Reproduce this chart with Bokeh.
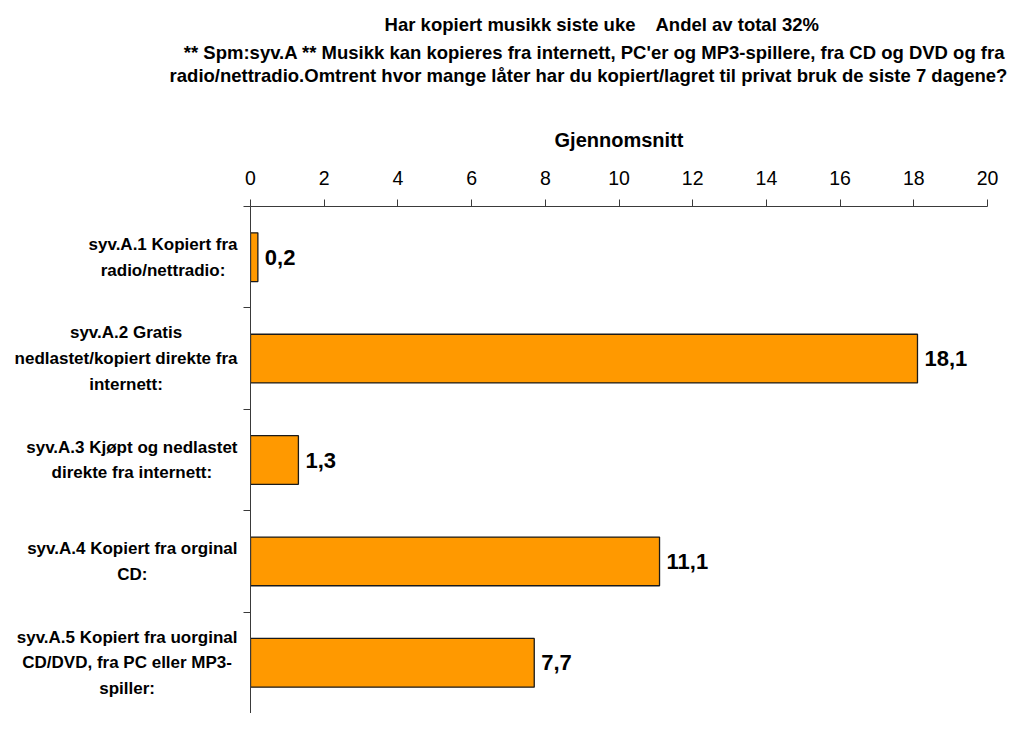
from bokeh.plotting import figure
from bokeh.models import FactorRange, Range1d, LinearAxis, FixedTicker, ColumnDataSource
from bokeh.layouts import column, row
from bokeh.core.properties import value
from bokeh.embed import file_html
from bokeh.resources import INLINE

# ---- data ----
categories = [
    "syv.A.1 Kopiert fra\nradio/nettradio:",
    "syv.A.2 Gratis\nnedlastet/kopiert direkte fra\ninternett:",
    "syv.A.3 Kjøpt og nedlastet\ndirekte fra internett:",
    "syv.A.4 Kopiert fra orginal\nCD:",
    "syv.A.5 Kopiert fra uorginal\nCD/DVD, fra PC eller MP3-\nspiller:",
]
values = [0.2, 18.1, 1.3, 11.1, 7.7]
value_labels = ["0,2", "18,1", "1,3", "11,1", "7,7"]
x_ticks = [0, 2, 4, 6, 8, 10, 12, 14, 16, 18, 20]
axis_title = "Gjennomsnitt"
title_left = "Har kopiert musikk siste uke"
title_right = "Andel av total 32%"
subtitle_lines = [
    "** Spm:syv.A ** Musikk kan kopieres fra internett, PC'er og MP3-spillere, fra CD og DVD og fra",
    "radio/nettradio.Omtrent hvor mange låter har du kopiert/lagret til privat bruk de siste 7 dagene?",
]

FONT = "Liberation Sans"
W, H = 1009, 713
TH = 100            # height of the title strip
RH = H - TH         # height of the chart row
LW = 240            # width of the category-label column
MW = W - LW         # width of the main chart
TOP = 106           # space above the plot frame inside the chart row
AX = "#3a3a3a"
TFS = "18.5px"


def bare(fig):
    fig.outline_line_color = None
    fig.grid.visible = False
    fig.background_fill_color = "white"
    fig.border_fill_color = "white"
    return fig


# ---- title strip ----
tf = bare(figure(width=W, height=TH, output_backend="svg", toolbar_location=None,
                 x_range=Range1d(0, W), y_range=Range1d(TH, 0),
                 x_axis_location=None, y_axis_location=None, min_border=0))
title_style = dict(text_baseline="alphabetic", text_font=value(FONT), text_font_style="bold",
                   text_font_size=TFS, text_color="black")
tf.text(x=[594, 588], y=[52, 75], text=subtitle_lines, text_align="center", **title_style)
tf.text(x=[645, 645], y=[24, 24], text=[title_left, title_right], x_offset=[-10, 10],
        text_align=["right", "left"], **title_style)

# ---- shared categorical range ----
yr = FactorRange(factors=list(reversed(categories)))

# ---- category labels column ----
lf = bare(figure(width=LW, height=RH, output_backend="svg", toolbar_location=None,
                 x_range=Range1d(0, LW), y_range=yr,
                 x_axis_location=None, y_axis_location=None,
                 min_border_top=TOP, min_border_bottom=0, min_border_left=0, min_border_right=0))
lf.text(x=[LW - 3] * len(categories), y=categories, text=categories,
        anchor="center_right", text_align="center", text_baseline="middle",
        text_font=value(FONT), text_font_style="bold", text_font_size="17px",
        text_line_height=1.35, text_color="black")

# ---- main chart ----
p = bare(figure(width=MW, height=RH, output_backend="svg", toolbar_location=None,
                x_range=Range1d(0, 20), y_range=yr,
                x_axis_location="above", y_axis_location=None,
                min_border_left=10, min_border_right=22, min_border_top=TOP, min_border_bottom=0))

xa = p.xaxis[0]
xa.ticker = FixedTicker(ticks=x_ticks)
xa.major_tick_out = 7
xa.major_tick_in = 0
xa.minor_tick_out = 0
xa.minor_tick_in = 0
xa.axis_line_color = AX
xa.major_tick_line_color = AX
xa.major_label_text_font = FONT
xa.major_label_text_font_size = "19.5px"
xa.major_label_text_color = "black"
xa.major_label_standoff = 15
xa.axis_label = axis_title
xa.axis_label_text_font = FONT
xa.axis_label_text_font_style = "bold"
xa.axis_label_text_font_size = "20px"
xa.axis_label_text_color = "black"
xa.axis_label_standoff = 17

ya = LinearAxis(ticker=FixedTicker(ticks=list(range(len(categories) + 1))),
                major_tick_out=7, major_tick_in=0, minor_tick_out=0, minor_tick_in=0,
                axis_line_color=AX, major_tick_line_color=AX, major_label_standoff=0,
                major_label_text_color=None, major_label_text_font_size="1px")
p.add_layout(ya, "left")

src = ColumnDataSource(dict(cat=categories, val=values, lab=value_labels))
p.hbar(y="cat", left=0, right="val", height=0.48, source=src,
       fill_color="#FF9900", line_color="#1a1a1a", line_width=1.3)
p.text(x="val", y="cat", text="lab", source=src, x_offset=7,
       text_align="left", text_baseline="middle",
       text_font=value(FONT), text_font_style="bold", text_font_size="22px", text_color="black")

layout = column(tf, row(lf, p))
open("out.html", "w").write(file_html(layout, INLINE))
